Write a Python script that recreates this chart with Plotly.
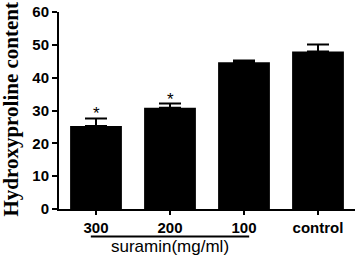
import plotly.graph_objects as go

categories = ["300", "200", "100", "control"]
values = [25.3, 30.8, 44.7, 48.0]
errors = [2.3, 1.3, 0.5, 2.1]
significant = [True, True, False, False]
y_ticks = [0, 10, 20, 30, 40, 50, 60]
group_label = "suramin(mg/ml)"
group_members = ["300", "200", "100"]
y_title = "Hydroxyproline content"

fig = go.Figure()
fig.add_trace(go.Bar(
    x=list(range(len(categories))),
    y=values,
    width=0.7,
    marker=dict(color="black", line=dict(color="black", width=0)),
    error_y=dict(type="data", array=errors, arrayminus=[0]*len(errors),
                 symmetric=False, color="black", thickness=2, width=11),
))

for i, (v, e, s) in enumerate(zip(values, errors, significant)):
    if s:
        fig.add_annotation(x=i, y=v + e, text="*", showarrow=False,
                           yanchor="bottom", yshift=-7,
                           font=dict(family="Arial", size=17, color="black"))

idx = [categories.index(c) for c in group_members]
fig.add_shape(type="line", xref="x", yref="paper",
              x0=min(idx) - 0.07, x1=max(idx) + 0.07, y0=-0.14, y1=-0.14,
              line=dict(color="black", width=2))
fig.add_annotation(x=(min(idx) + max(idx)) / 2, xref="x", y=-0.188, yref="paper",
                   text=group_label, showarrow=False, yanchor="middle",
                   font=dict(family="Arial", size=17, color="black"))

# y-axis title
fig.add_annotation(x=0, xref="paper", xshift=-48, y=0.505, yref="paper",
                   text=y_title, textangle=-90, showarrow=False,
                   xanchor="center", yanchor="middle",
                   font=dict(family="Liberation Serif", size=21, color="black", weight="bold"))

fig.update_layout(
    width=358, height=257,
    margin=dict(l=59, r=3, t=12, b=48, autoexpand=False),
    plot_bgcolor="white", paper_bgcolor="white",
    showlegend=False,
    bargap=0.3,
    xaxis=dict(
        tickmode="array", tickvals=list(range(len(categories))), ticktext=categories,
        range=[-0.5, len(categories) - 0.5], automargin=False,
        showline=True, linecolor="black", linewidth=2,
        ticks="outside", ticklen=4, tickwidth=2, tickcolor="black",
        tickfont=dict(family="Arial", size=15, color="black", weight="bold"),
        showgrid=False, zeroline=False,
    ),
    yaxis=dict(
        range=[0, 60], tickvals=y_ticks, automargin=False,
        ticklabeloverflow="allow",
        showline=True, linecolor="black", linewidth=2,
        ticks="outside", ticklen=5, tickwidth=2, tickcolor="black",
        tickfont=dict(family="Arial", size=15, color="black", weight="bold"),
        showgrid=False, zeroline=False,
    ),
)

fig.write_html("out.html", config={"displayModeBar": False},
               post_script="document.body.style.margin='0';document.body.style.overflow='hidden';")
